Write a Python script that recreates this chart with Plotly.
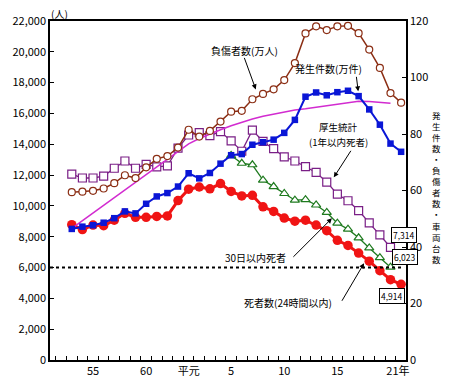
import plotly.graph_objects as go

YEARS = list(range(1978, 2010))
YEARS_30D = list(range(1993, 2009))
YEARS_VITAL = list(range(1978, 2009))
YEARS_VEH = list(range(1978, 2009))

# left axis (persons)
deaths_24h = [8783, 8466, 8760, 8719, 9073, 9520, 9262, 9261, 9317, 9347, 10344, 11086,
              11227, 11109, 11452, 10942, 10649, 10684, 9943, 9642, 9214, 9012, 9073,
              8757, 8396, 7768, 7436, 6937, 6415, 5796, 5209, 4914]
deaths_30d = [13269, 12768, 12670, 11674, 11254, 10805, 10372, 10403, 10060, 9575, 8877,
              8492, 7931, 7272, 6639, 6023]
deaths_vital = [12065, 11811, 11811, 11938, 12445, 12914, 12445, 12699, 12534, 12597, 13750,
                14601, 14753, 14563, 14816, 14221, 13548, 14918, 14183, 13714, 13187, 12914,
                12553, 12173, 11539, 10759, 10334, 9700, 8895, 8115, 7314]
# right axis
injured = [59.4, 59.6, 59.9, 60.7, 62.6, 65.4, 64.4, 68.2, 71.2, 72.2, 75.2, 81.5, 79.1,
           81.1, 84.4, 87.9, 88.2, 92.3, 94.2, 95.8, 99.1, 105.1, 115.6, 118.1, 116.8,
           118.1, 118.3, 115.7, 109.9, 103.4, 94.5, 91.1]
accidents = [46.4, 47.2, 47.7, 48.6, 50.2, 52.6, 51.9, 55.3, 57.9, 59.1, 61.4, 66.1, 64.3,
             66.2, 69.5, 72.5, 72.9, 76.2, 77.1, 78.0, 80.4, 85.0, 93.2, 94.7, 93.7, 94.8,
             95.3, 93.4, 88.7, 83.3, 76.6, 73.7]
vehicles = [46.6, 49.3, 52.0, 54.7, 57.4, 60.1, 62.8, 65.5, 68.2, 70.9, 73.8, 76.5, 78.4,
            80.0, 81.5, 82.9, 84.2, 85.3, 86.3, 87.1, 87.8, 88.5, 88.9, 89.4, 90.0, 90.5,
            91.0, 91.6, 91.5, 91.2, 90.9]

THRESHOLD = 6000
X_TICKVALS = [1980, 1985, 1989, 1993, 1998, 2003, 2008.7]
X_TICKTEXT = ["55", "60", "平元", "5", "10", "15", "21年"]
Y_LEFT_TICKS = list(range(0, 22001, 2000))
Y_LEFT_TEXT = ["0", "2,000", "4,000", "6,000", "8,000", "10,000", "12,000", "14,000",
               "16,000", "18,000", "20,000", "22,000"]
Y_RIGHT_TICKS = [0, 20, 40, 60, 80, 100, 120]

END_LABELS = ["7,314", "6,023", "4,914"]

FONT = "Noto Sans CJK JP"
W, H = 450, 390
L, R, T, B = 41, 406, 20, 367


def px(x):
    return (x - L) / (R - L)


def py(y):
    return (B - y) / (B - T)


fig = go.Figure()
fig.add_trace(go.Scatter(x=YEARS_VEH, y=vehicles, yaxis="y2", mode="lines",
                         line=dict(color="#D22BD0", width=1.5)))
fig.add_trace(go.Scatter(x=YEARS_VITAL, y=deaths_vital, mode="lines+markers",
                         line=dict(color="#7A1F86", width=1.3),
                         marker=dict(symbol="square", size=8, color="white",
                                     line=dict(color="#7A1F86", width=1.2))))
fig.add_trace(go.Scatter(x=YEARS_30D, y=deaths_30d, mode="lines+markers",
                         line=dict(color="#1E7A1E", width=1.3),
                         marker=dict(symbol="triangle-up", size=8, color="white",
                                     line=dict(color="#1E7A1E", width=1.2))))
fig.add_trace(go.Scatter(x=YEARS, y=injured, yaxis="y2", mode="lines+markers",
                         line=dict(color="#8B2E14", width=1.5),
                         marker=dict(symbol="circle", size=7, color="white",
                                     line=dict(color="#8B2E14", width=1.2))))
fig.add_trace(go.Scatter(x=YEARS, y=deaths_24h, mode="lines+markers",
                         line=dict(color="#F01414", width=3),
                         marker=dict(symbol="circle", size=9.5, color="#F01414")))
fig.add_trace(go.Scatter(x=YEARS, y=accidents, yaxis="y2", mode="lines+markers",
                         line=dict(color="#0A16D6", width=2),
                         marker=dict(symbol="square", size=6.5, color="#0A16D6")))

fig.add_shape(type="line", xref="paper", yref="y", x0=0, x1=px(404), y0=THRESHOLD,
              y1=THRESHOLD, line=dict(color="black", width=2, dash="dot"))

axis_font = dict(family=FONT, size=11, color="black")
fig.update_layout(
    width=W, height=H, margin=dict(l=L, r=W - R, t=T, b=H - B),
    paper_bgcolor="white", plot_bgcolor="white", showlegend=False,
    font=dict(family=FONT, color="black"),
    xaxis=dict(range=[1975.95, 2009.46], tickmode="array", tickvals=X_TICKVALS,
               ticktext=X_TICKTEXT, ticks="", showgrid=False, zeroline=False,
               showline=True, linecolor="black", linewidth=1.5, mirror=True,
               tickfont=axis_font,
               minor=dict(tick0=1978.5, dtick=1, ticks="inside", ticklen=4,
                          tickcolor="black", tickwidth=1, showgrid=False)),
    yaxis=dict(range=[0, 22000], tickmode="array", tickvals=Y_LEFT_TICKS,
               ticktext=Y_LEFT_TEXT, ticks="inside", ticklen=4, tickcolor="black",
               showgrid=False, zeroline=False, showline=True, linecolor="black",
               linewidth=1.5, tickfont=axis_font),
    yaxis2=dict(range=[0, 120], overlaying="y", side="right", tickmode="array",
                tickvals=Y_RIGHT_TICKS, ticks="inside", ticklen=4, tickcolor="black",
                showgrid=False, zeroline=False, showline=True, linecolor="black",
                linewidth=1.5, tickfont=axis_font),
)

ann = []
ann.append(dict(x=px(51), y=py(12), text="(人)", showarrow=False,
                font=dict(size=10)))
# right axis title, stacked characters
ann.append(dict(x=px(437), y=py(190), text="<br>".join(list("発生件数・負傷者数・車両台数")),
                showarrow=False, font=dict(size=8.5)))

labels = [
    ("負傷者数(万人)", 240, 50, 10),
    ("発生件数(万件)", 327, 69, 10),
    ("厚生統計", 337, 128, 9.5),
    ("(1年以内死者)", 337, 144, 9.5),
    ("30日以内死者", 252, 262, 10),
    ("死者数(24時間以内)", 285, 308, 10),
]
for t, x, y, s in labels:
    ann.append(dict(x=px(x), y=py(y), text=t, showarrow=False, borderpad=0,
                    font=dict(size=s, color="black")))

arrows = [((240, 57), (252, 90)), ((355, 76), (357, 92)), ((350, 152), (332, 180)),
          ((290, 262), (330, 222)), ((340, 307), (363, 268))]
for (tx, ty), (hx, hy) in arrows:
    ann.append(dict(x=px(hx), y=py(hy), ax=tx - hx, ay=ty - hy, text="",
                    showarrow=True, arrowhead=2, arrowsize=1, arrowwidth=1,
                    arrowcolor="black"))

boxes = [(END_LABELS[0], 404, 239), (END_LABELS[1], 405, 262), (END_LABELS[2], 392, 301)]
for t, x, y in boxes:
    ann.append(dict(x=px(x), y=py(y), text=t, showarrow=False, bgcolor="white",
                    bordercolor="black", borderwidth=1, borderpad=1,
                    font=dict(size=8.5, color="black")))

for a in ann:
    a.setdefault("xref", "paper")
    a.setdefault("yref", "paper")
    a.setdefault("xanchor", "center")
    a.setdefault("yanchor", "middle")
fig.update_layout(annotations=ann)

fig.write_html("out.html", config={"displayModeBar": False},
               post_script="document.body.style.margin='0';")
